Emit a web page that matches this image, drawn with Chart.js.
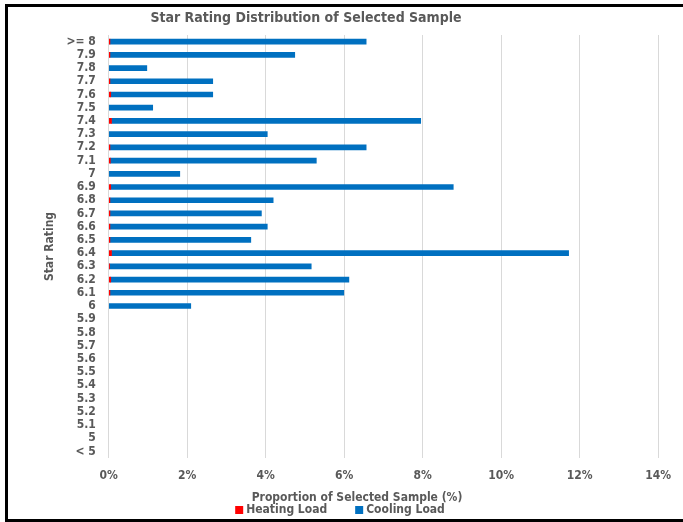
<!DOCTYPE html>
<html>
<head>
<meta charset="utf-8">
<script src="https://cdn.jsdelivr.net/npm/chart.js@4/dist/chart.umd.min.js"></script>
<style>
  html, body { margin: 0; padding: 0; background: #fff; overflow: hidden; }
</style>
</head>
<body>
<canvas id="cv" width="683" height="522"></canvas>
<script>
// star rating bands, top to bottom
var ratings = [">= 8", "7.9", "7.8", "7.7", "7.6", "7.5", "7.4", "7.3", "7.2", "7.1", "7",
  "6.9", "6.8", "6.7", "6.6", "6.5", "6.4", "6.3", "6.2", "6.1", "6",
  "5.9", "5.8", "5.7", "5.6", "5.5", "5.4", "5.3", "5.2", "5.1", "5", "< 5"];
// share of selected sample, percent (null = no homes in band)
var heatingLoad = [0.03, 0.03, null, 0.03, 0.05, null, 0.07, null, 0.03, 0.04, null,
  0.05, 0.03, 0.03, 0.03, 0.03, 0.07, 0.02, 0.05, 0.03, null,
  null, null, null, null, null, null, null, null, null, null, null];
var coolingLoad = [6.53, 4.71, 0.97, 2.62, 2.60, 1.12, 7.88, 4.04, 6.53, 5.25, 1.81,
  8.73, 4.16, 3.86, 4.01, 3.59, 11.65, 5.14, 6.07, 5.96, 2.09,
  null, null, null, null, null, null, null, null, null, null, null];
var xTicks = [0, 2, 4, 6, 8, 10, 12, 14];

var grey = '#595959';
var fontFam = '"DejaVu Sans Condensed", "Liberation Sans Narrow", Roboto, sans-serif';

// sheet frame, title, x caption and legend drawn by hand
var decor = {
  id: 'decor',
  beforeDraw: function(chart) {
    var ctx = chart.ctx;
    ctx.save();
    ctx.fillStyle = '#000';
    ctx.fillRect(5, 4, 3, 518);
    ctx.fillRect(5, 4, 678, 3);
    ctx.fillRect(5, 519, 678, 3);
    ctx.restore();
  },
  afterDraw: function(chart) {
    var ctx = chart.ctx;
    ctx.save();
    ctx.fillStyle = grey;
    ctx.textAlign = 'center';
    ctx.textBaseline = 'middle';
    ctx.font = 'bold 14px ' + fontFam;
    ctx.fillText('Star Rating Distribution of Selected Sample', 306, 18);
    ctx.font = 'bold 12px ' + fontFam;
    ctx.fillText('Proportion of Selected Sample (%)', 357, 498);

    // legend row
    var sets = chart.data.datasets;
    var box = 8, gapText = 3, gapItem = 28;
    var widths = sets.map(function(d) { return box + gapText + ctx.measureText(d.label).width; });
    var total = widths.reduce(function(a, b) { return a + b; }, 0) + gapItem * (sets.length - 1);
    var x = 340 - total / 2, y = 510;
    ctx.textAlign = 'left';
    sets.forEach(function(d, i) {
      ctx.fillStyle = d.backgroundColor;
      ctx.fillRect(x, y - box / 2, box, box);
      ctx.fillStyle = grey;
      ctx.fillText(d.label, x + box + gapText, y);
      x += widths[i] + gapItem;
    });
    ctx.restore();
  }
};

new Chart(document.getElementById('cv'), {
  type: 'bar',
  data: {
    labels: ratings,
    datasets: [{
      label: 'Heating Load',
      data: heatingLoad,
      backgroundColor: '#FF0000',
      barThickness: 5
    }, {
      label: 'Cooling Load',
      data: coolingLoad,
      backgroundColor: '#0070C0',
      barThickness: 5
    }]
  },
  options: {
    indexAxis: 'y',
    responsive: false,
    animation: false,
    layout: { padding: { top: 35, left: 43, right: 20, bottom: 28 } },
    scales: {
      x: {
        stacked: true,
        min: 0,
        max: 14,
        afterBuildTicks: function(axis) {
          axis.ticks = xTicks.map(function(v) { return { value: v }; });
        },
        grid: { color: '#d9d9d9', drawTicks: false },
        border: { display: false },
        ticks: {
          padding: 12,
          color: grey,
          font: { family: fontFam, size: 12, weight: 'bold', lineHeight: 1 },
          callback: function(v) { return v + '%'; }
        }
      },
      y: {
        stacked: true,
        grid: { display: false },
        border: { display: false },
        ticks: {
          padding: 5,
          autoSkip: false,
          color: grey,
          font: { family: fontFam, size: 12, weight: 'bold' }
        },
        title: {
          display: true,
          text: 'Star Rating',
          color: grey,
          font: { family: fontFam, size: 12, weight: 'bold' },
          padding: { top: 0, bottom: 4 }
        }
      }
    },
    plugins: {
      title: { display: false },
      legend: { display: false },
      tooltip: { enabled: false }
    }
  },
  plugins: [decor]
});
</script>
</body>
</html>
